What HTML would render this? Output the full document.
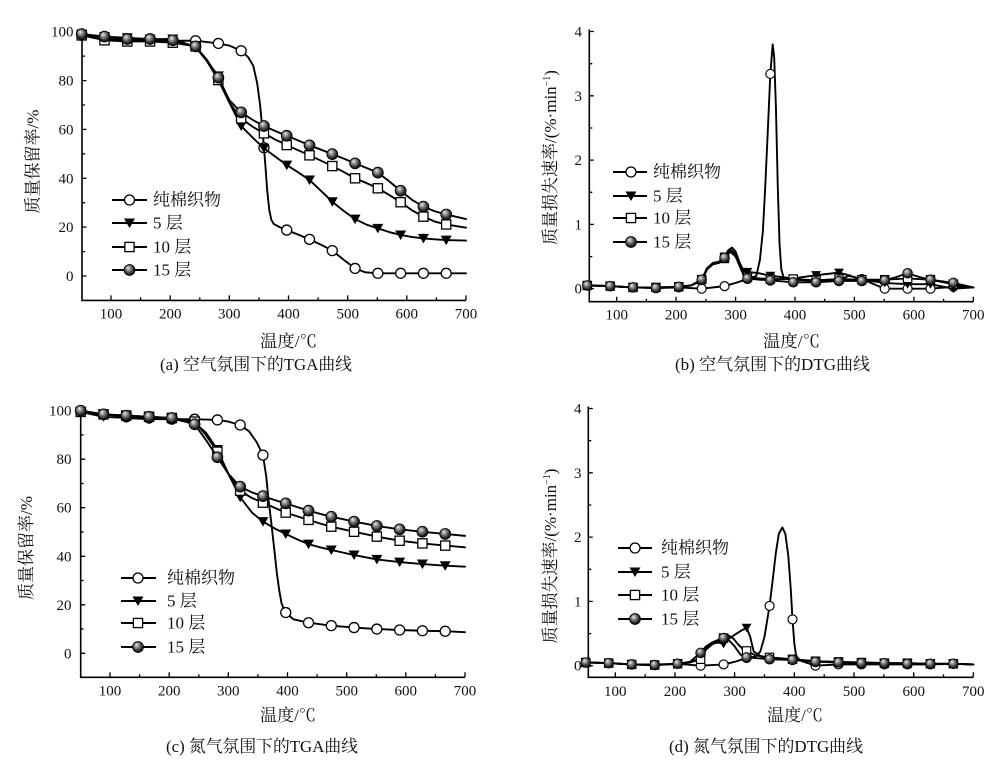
<!DOCTYPE html>
<html><head><meta charset="utf-8"><style>
html,body{margin:0;padding:0;background:#fff}
svg{display:block}
text{font-family:"Liberation Serif","Noto Serif CJK SC",serif;fill:#111}
.t{font-size:15px}
.l{font-size:17px}
.ax{stroke:#000;stroke-width:1.6;fill:none}
.tk{stroke:#000;stroke-width:1.3;fill:none}
.d{fill:none;stroke:#000;stroke-width:1.9;stroke-linejoin:round;stroke-linecap:round}
.lg{stroke:#000;stroke-width:2}
</style></head><body>
<svg width="1000" height="779" viewBox="0 0 1000 779" xmlns="http://www.w3.org/2000/svg">
<defs>
<radialGradient id="g" cx="0.45" cy="0.42" r="0.6" fx="0.36" fy="0.3">
<stop offset="0" stop-color="#eeeeee"/><stop offset="0.35" stop-color="#8f8f8f"/><stop offset="0.75" stop-color="#2e2e2e"/><stop offset="1" stop-color="#0e0e0e"/>
</radialGradient>
<g id="mc"><circle r="5" fill="#fff" stroke="#000" stroke-width="1.3"/></g>
<g id="mt"><path d="M-5.5,-4.5L5.5,-4.5L0,5Z" fill="#000"/></g>
<g id="ms"><rect x="-4.6" y="-4.6" width="9.2" height="9.2" fill="#fff" stroke="#000" stroke-width="1.3"/></g>
<g id="mb"><circle r="5.4" fill="url(#g)" stroke="#000" stroke-width="0.9"/></g>
<g id="Ac" transform="scale(1.69,-0.40933)"><use href="#mc"/></g>
<g id="At" transform="scale(1.69,-0.40933)"><use href="#mt"/></g>
<g id="As" transform="scale(1.69,-0.40933)"><use href="#ms"/></g>
<g id="Ab" transform="scale(1.69,-0.40933)"><use href="#mb"/></g>
<g id="Cc" transform="scale(1.69,-0.4122)"><use href="#mc"/></g>
<g id="Ct" transform="scale(1.69,-0.4122)"><use href="#mt"/></g>
<g id="Cs" transform="scale(1.69,-0.4122)"><use href="#ms"/></g>
<g id="Cb" transform="scale(1.69,-0.4122)"><use href="#mb"/></g>
<g id="Bc" transform="scale(1.5144,-0.014)"><use href="#mc"/></g>
<g id="Bt" transform="scale(1.5144,-0.014)"><use href="#mt"/></g>
<g id="Bs" transform="scale(1.5144,-0.014)"><use href="#ms"/></g>
<g id="Bb" transform="scale(1.5144,-0.014)"><use href="#mb"/></g>
<g id="Dc" transform="scale(1.5083,-0.014)"><use href="#mc"/></g>
<g id="Dt" transform="scale(1.5083,-0.014)"><use href="#mt"/></g>
<g id="Ds" transform="scale(1.5083,-0.014)"><use href="#ms"/></g>
<g id="Db" transform="scale(1.5083,-0.014)"><use href="#mb"/></g>
</defs>

<!-- ================= PANEL A ================= -->
<path class="ax" d="M82,29.5V300.4H466"/>
<path class="tk" d="M82,276h4.5M82,227.1h4.5M82,178.3h4.5M82,129.4h4.5M82,80.6h4.5M82,31.7h4.5M82,251.6h3M82,202.7h3M82,153.8h3M82,105h3M82,56.1h3M111,300.4v-5M170.2,300.4v-5M229.3,300.4v-5M288.5,300.4v-5M347.7,300.4v-5M406.8,300.4v-5M466,300.4v-5M140.6,300.4v-3M199.8,300.4v-3M258.9,300.4v-3M318.1,300.4v-3M377.3,300.4v-3M436.4,300.4v-3"/>
<g class="t" text-anchor="end">
<text x="73.5" y="281">0</text><text x="73.5" y="232.1">20</text><text x="73.5" y="183.3">40</text><text x="73.5" y="134.4">60</text><text x="73.5" y="85.6">80</text><text x="73.5" y="36.7">100</text>
</g>
<g class="t" text-anchor="middle">
<text x="111" y="318.5">100</text><text x="170.2" y="318.5">200</text><text x="229.3" y="318.5">300</text><text x="288.5" y="318.5">400</text><text x="347.7" y="318.5">500</text><text x="406.8" y="318.5">600</text><text x="466" y="318.5">700</text>
</g>
<text class="l" transform="translate(38.5,161.5) rotate(-90)" text-anchor="middle">质量保留率/%</text>
<text class="l" x="260" y="347" textLength="57" lengthAdjust="spacingAndGlyphs">温度/℃</text>
<text class="l" x="160" y="370" textLength="192" lengthAdjust="spacingAndGlyphs">(a) 空气氛围下的TGA曲线</text>

<g transform="matrix(0.5917 0 0 -2.443 51.83 276)">
<polyline class="d" vector-effect="non-scaling-stroke" points="50.5,98.5 89,97.3 127.5,96.3 166,96.3 204.5,96.3 243,96.3 281.5,95.2 300,94.3 320,92.2 332,89.5 340.5,86 347,79 352,70 357,57 361,45 364,35 367.5,27 371,23 375,21.3 385,20 397,18.8 416,17 435.5,15 455,12.8 474,10.4 494,6.5 512.5,3.1 530,1.5 551,1.1 589.5,1.1 628,1.1 666.5,1.1 700,1.1"/>
<use href="#Ac" x="50.5" y="98.5"/><use href="#Ac" x="89" y="97.3"/><use href="#Ac" x="127.5" y="96.3"/><use href="#Ac" x="166" y="96.3"/><use href="#Ac" x="204.5" y="96.3"/><use href="#Ac" x="243" y="96.3"/><use href="#Ac" x="281.5" y="95.2"/><use href="#Ac" x="320" y="92.2"/><use href="#Ac" x="358.5" y="52.5"/><use href="#Ac" x="397" y="18.8"/><use href="#Ac" x="435.5" y="15"/><use href="#Ac" x="474" y="10.4"/><use href="#Ac" x="512.5" y="3.1"/><use href="#Ac" x="551" y="1.1"/><use href="#Ac" x="589.5" y="1.1"/><use href="#Ac" x="628" y="1.1"/><use href="#Ac" x="666.5" y="1.1"/>

<polyline class="d" vector-effect="non-scaling-stroke" points="50.5,99 89,98 127.5,97.5 166,97 204.5,97 243,93.7 262,88 281.5,81.9 300,71 320,61.4 340,56.5 358.5,52.3 378,48.8 397,45.4 416,42.5 435.5,39.3 455,34.8 474,30.4 494,26.5 512.5,23.3 532,21 551,19.5 570,18 589.5,16.8 608,16 628,15.4 647,15 666.5,14.7 700,14.5"/>
<use href="#At" x="50.5" y="99"/><use href="#At" x="89" y="98"/><use href="#At" x="127.5" y="97.5"/><use href="#At" x="166" y="97"/><use href="#At" x="204.5" y="97"/><use href="#At" x="243" y="93.7"/><use href="#At" x="281.5" y="81.9"/><use href="#At" x="320" y="61.4"/><use href="#At" x="358.5" y="52.3"/><use href="#At" x="397" y="45.4"/><use href="#At" x="435.5" y="39.3"/><use href="#At" x="474" y="30.4"/><use href="#At" x="512.5" y="23.3"/><use href="#At" x="551" y="19.5"/><use href="#At" x="589.5" y="16.8"/><use href="#At" x="628" y="15.4"/><use href="#At" x="666.5" y="14.7"/>

<polyline class="d" vector-effect="non-scaling-stroke" points="50.5,98.5 89,96.5 127.5,96 166,96 204.5,95.5 243,94 262,88 281.5,80.2 300,71 320,64.5 340,61 358.5,58.4 378,55.8 397,53.6 416,51.5 435.5,49.4 455,47.2 474,45 494,42.5 512.5,40 532,38 551,35.9 570,33.2 589.5,30.2 608,27 628,24.3 647,22.3 666.5,21.1 700,19.8"/>
<use href="#As" x="50.5" y="98.5"/><use href="#As" x="89" y="96.5"/><use href="#As" x="127.5" y="96"/><use href="#As" x="166" y="96"/><use href="#As" x="204.5" y="95.5"/><use href="#As" x="243" y="94"/><use href="#As" x="281.5" y="80.2"/><use href="#As" x="320" y="64.5"/><use href="#As" x="358.5" y="58.4"/><use href="#As" x="397" y="53.6"/><use href="#As" x="435.5" y="49.4"/><use href="#As" x="474" y="45"/><use href="#As" x="512.5" y="40"/><use href="#As" x="551" y="35.9"/><use href="#As" x="589.5" y="30.2"/><use href="#As" x="628" y="24.3"/><use href="#As" x="666.5" y="21.1"/>

<polyline class="d" vector-effect="non-scaling-stroke" points="50.5,99 89,98 127.5,97 166,97 204.5,96.5 243,94 262,88.5 281.5,81.2 300,72 320,67 340,63.8 358.5,61.4 378,59.3 397,57.4 416,55.5 435.5,53.5 455,51.7 474,49.9 494,48 512.5,46.1 532,44.2 551,42.3 570,38.8 589.5,34.9 608,31.3 628,28.4 647,26.5 666.5,25.2 700,23.3"/>
<use href="#Ab" x="50.5" y="99"/><use href="#Ab" x="89" y="98"/><use href="#Ab" x="127.5" y="97"/><use href="#Ab" x="166" y="97"/><use href="#Ab" x="204.5" y="96.5"/><use href="#Ab" x="243" y="94"/><use href="#Ab" x="281.5" y="81.2"/><use href="#Ab" x="320" y="67"/><use href="#Ab" x="358.5" y="61.4"/><use href="#Ab" x="397" y="57.4"/><use href="#Ab" x="435.5" y="53.5"/><use href="#Ab" x="474" y="49.9"/><use href="#Ab" x="512.5" y="46.1"/><use href="#Ab" x="551" y="42.3"/><use href="#Ab" x="589.5" y="34.9"/><use href="#Ab" x="628" y="28.4"/><use href="#Ab" x="666.5" y="25.2"/>
</g>

<line class="lg" x1="112" y1="200" x2="147" y2="200"/><use href="#mc" x="129.5" y="200"/>
<line class="lg" x1="112" y1="223" x2="147" y2="223"/><use href="#mt" x="129.5" y="223"/>
<line class="lg" x1="112" y1="247" x2="147" y2="247"/><use href="#ms" x="129.5" y="247"/>
<line class="lg" x1="112" y1="270" x2="147" y2="270"/><use href="#mb" x="129.5" y="270"/>
<text class="l" x="153" y="205.5">纯棉织物</text>
<text class="l" x="153" y="228.5">5 层</text>
<text class="l" x="153" y="252.5">10 层</text>
<text class="l" x="153" y="275.5">15 层</text>

<!-- ================= PANEL B ================= -->
<path class="ax" d="M589.3,29.5V301.7H973.3"/>
<path class="tk" d="M589.3,288.7h4.5M589.3,224.4h4.5M589.3,160.1h4.5M589.3,95.8h4.5M589.3,31.5h4.5M589.3,256.6h3M589.3,192.3h3M589.3,128h3M589.3,63.7h3M616.7,301.7v-5M676.1,301.7v-5M735.6,301.7v-5M795,301.7v-5M854.4,301.7v-5M913.9,301.7v-5M973.3,301.7v-5M646.4,301.7v-3M705.9,301.7v-3M765.3,301.7v-3M824.7,301.7v-3M884.2,301.7v-3M943.6,301.7v-3"/>
<g class="t" text-anchor="end">
<text x="582" y="293.7">0</text><text x="582" y="229.4">1</text><text x="582" y="165.1">2</text><text x="582" y="100.8">3</text><text x="582" y="36.5">4</text>
</g>
<g class="t" text-anchor="middle">
<text x="616.7" y="319.5">100</text><text x="676.1" y="319.5">200</text><text x="735.6" y="319.5">300</text><text x="795" y="319.5">400</text><text x="854.4" y="319.5">500</text><text x="913.9" y="319.5">600</text><text x="973.3" y="319.5">700</text>
</g>
<text class="l" transform="translate(556,157.5) rotate(-90)" text-anchor="middle">质量损失速率/(%·min<tspan font-size="10" dy="-6">−1</tspan><tspan dy="6">)</tspan></text>
<text class="l" x="763" y="347" textLength="57" lengthAdjust="spacingAndGlyphs">温度/℃</text>
<text class="l" x="675" y="370" textLength="195" lengthAdjust="spacingAndGlyphs">(b) 空气氛围下的DTG曲线</text>

<g transform="matrix(0.5943 0 0 -64.3 557.27 288.7)">
<polyline class="d" vector-effect="non-scaling-stroke" points="50.5,0.05 89,0.04 127.5,0.02 166,0.01 204.5,0.02 243,0 281.5,0.04 300,0.09 320,0.15 335,0.2 341,0.45 346,0.9 350,1.6 354,2.4 358.5,3.34 362.5,3.8 365,3.6 368,2.8 371,1.6 374,0.7 377,0.3 381,0.17 397,0.14 435.5,0.12 474,0.13 490,0.2 500,0.18 512.5,0.15 530,0.08 551,0 589.5,0 628,0 666.5,0.03 700,0.02"/>
<use href="#Bc" x="50.5" y="0.05"/><use href="#Bc" x="89" y="0.04"/><use href="#Bc" x="127.5" y="0.02"/><use href="#Bc" x="166" y="0.01"/><use href="#Bc" x="204.5" y="0.02"/><use href="#Bc" x="243" y="0"/><use href="#Bc" x="281.5" y="0.04"/><use href="#Bc" x="320" y="0.15"/><use href="#Bc" x="358.5" y="3.34"/><use href="#Bc" x="397" y="0.14"/><use href="#Bc" x="435.5" y="0.12"/><use href="#Bc" x="474" y="0.13"/><use href="#Bc" x="512.5" y="0.15"/><use href="#Bc" x="551" y="0"/><use href="#Bc" x="589.5" y="0"/><use href="#Bc" x="628" y="0"/><use href="#Bc" x="666.5" y="0.03"/>

<polyline class="d" vector-effect="non-scaling-stroke" points="50.5,0.05 89,0.04 127.5,0.02 166,0.02 204.5,0.03 225,0.05 243,0.12 252,0.3 262,0.4 272,0.42 281.5,0.5 288,0.6 294,0.64 300,0.58 307,0.4 314,0.27 322,0.26 340,0.24 358.5,0.2 378,0.18 397,0.16 435.5,0.21 474,0.25 494,0.2 512.5,0.14 551,0.09 589.5,0.07 628,0.07 666.5,0 700,0.02"/>
<use href="#Bt" x="50.5" y="0.05"/><use href="#Bt" x="89" y="0.04"/><use href="#Bt" x="127.5" y="0.02"/><use href="#Bt" x="166" y="0.02"/><use href="#Bt" x="204.5" y="0.03"/><use href="#Bt" x="243" y="0.12"/><use href="#Bt" x="281.5" y="0.5"/><use href="#Bt" x="320" y="0.26"/><use href="#Bt" x="358.5" y="0.2"/><use href="#Bt" x="397" y="0.16"/><use href="#Bt" x="435.5" y="0.21"/><use href="#Bt" x="474" y="0.25"/><use href="#Bt" x="512.5" y="0.14"/><use href="#Bt" x="551" y="0.09"/><use href="#Bt" x="589.5" y="0.07"/><use href="#Bt" x="628" y="0.07"/><use href="#Bt" x="666.5" y="0"/>

<polyline class="d" vector-effect="non-scaling-stroke" points="50.5,0.05 89,0.04 127.5,0.02 166,0.02 204.5,0.03 225,0.05 243,0.14 252,0.32 262,0.4 272,0.4 281.5,0.47 288,0.56 293,0.6 300,0.54 307,0.38 314,0.22 320,0.18 340,0.16 358.5,0.15 397,0.15 435.5,0.13 474,0.15 512.5,0.14 551,0.14 589.5,0.16 628,0.14 666.5,0.07 700,0.02"/>
<use href="#Bs" x="50.5" y="0.05"/><use href="#Bs" x="89" y="0.04"/><use href="#Bs" x="127.5" y="0.02"/><use href="#Bs" x="166" y="0.02"/><use href="#Bs" x="204.5" y="0.03"/><use href="#Bs" x="243" y="0.14"/><use href="#Bs" x="281.5" y="0.47"/><use href="#Bs" x="320" y="0.18"/><use href="#Bs" x="358.5" y="0.15"/><use href="#Bs" x="397" y="0.15"/><use href="#Bs" x="435.5" y="0.13"/><use href="#Bs" x="474" y="0.15"/><use href="#Bs" x="512.5" y="0.14"/><use href="#Bs" x="551" y="0.14"/><use href="#Bs" x="589.5" y="0.16"/><use href="#Bs" x="628" y="0.14"/><use href="#Bs" x="666.5" y="0.07"/>

<polyline class="d" vector-effect="non-scaling-stroke" points="50.5,0.05 89,0.04 127.5,0.02 166,0.01 204.5,0.03 225,0.05 243,0.14 252,0.3 262,0.38 272,0.4 281.5,0.48 288,0.55 292,0.57 300,0.5 307,0.35 314,0.2 320,0.16 340,0.14 358.5,0.13 397,0.1 435.5,0.1 474,0.12 512.5,0.12 551,0.13 570,0.18 589.5,0.24 610,0.18 628,0.14 666.5,0.09 700,0.02"/>
<use href="#Bb" x="50.5" y="0.05"/><use href="#Bb" x="89" y="0.04"/><use href="#Bb" x="127.5" y="0.02"/><use href="#Bb" x="166" y="0.01"/><use href="#Bb" x="204.5" y="0.03"/><use href="#Bb" x="243" y="0.14"/><use href="#Bb" x="281.5" y="0.48"/><use href="#Bb" x="320" y="0.16"/><use href="#Bb" x="358.5" y="0.13"/><use href="#Bb" x="397" y="0.1"/><use href="#Bb" x="435.5" y="0.1"/><use href="#Bb" x="474" y="0.12"/><use href="#Bb" x="512.5" y="0.12"/><use href="#Bb" x="551" y="0.13"/><use href="#Bb" x="589.5" y="0.24"/><use href="#Bb" x="628" y="0.14"/><use href="#Bb" x="666.5" y="0.09"/>
</g>

<line class="lg" x1="613" y1="172" x2="647" y2="172"/><use href="#mc" x="631" y="172"/>
<line class="lg" x1="613" y1="196" x2="647" y2="196"/><use href="#mt" x="631" y="196"/>
<line class="lg" x1="613" y1="218" x2="647" y2="218"/><use href="#ms" x="631" y="218"/>
<line class="lg" x1="613" y1="242" x2="647" y2="242"/><use href="#mb" x="631" y="242"/>
<text class="l" x="653" y="177.5">纯棉织物</text>
<text class="l" x="653" y="201.5">5 层</text>
<text class="l" x="653" y="223.5">10 层</text>
<text class="l" x="653" y="247.5">15 层</text>

<!-- ================= PANEL C ================= -->
<path class="ax" d="M80.7,408.5V677.3H465"/>
<path class="tk" d="M80.7,653.3h4.5M80.7,604.8h4.5M80.7,556.3h4.5M80.7,507.7h4.5M80.7,459.2h4.5M80.7,410.7h4.5M80.7,629h3M80.7,580.5h3M80.7,532h3M80.7,483.5h3M80.7,434.9h3M110,677.3v-5M169.2,677.3v-5M228.3,677.3v-5M287.5,677.3v-5M346.7,677.3v-5M405.8,677.3v-5M465,677.3v-5M139.6,677.3v-3M198.8,677.3v-3M257.9,677.3v-3M317.1,677.3v-3M376.3,677.3v-3M435.4,677.3v-3"/>
<g class="t" text-anchor="end">
<text x="71.5" y="658.3">0</text><text x="71.5" y="609.8">20</text><text x="71.5" y="561.3">40</text><text x="71.5" y="512.7">60</text><text x="71.5" y="464.2">80</text><text x="71.5" y="415.7">100</text>
</g>
<g class="t" text-anchor="middle">
<text x="110" y="695.5">100</text><text x="169.2" y="695.5">200</text><text x="228.3" y="695.5">300</text><text x="287.5" y="695.5">400</text><text x="346.7" y="695.5">500</text><text x="405.8" y="695.5">600</text><text x="465" y="695.5">700</text>
</g>
<text class="l" transform="translate(32,548) rotate(-90)" text-anchor="middle">质量保留率/%</text>
<text class="l" x="260" y="721" textLength="56" lengthAdjust="spacingAndGlyphs">温度/℃</text>
<text class="l" x="166" y="752" textLength="192" lengthAdjust="spacingAndGlyphs">(c) 氮气氛围下的TGA曲线</text>

<g transform="matrix(0.5917 0 0 -2.426 50.83 653.3)">
<polyline class="d" vector-effect="non-scaling-stroke" points="50.5,100 89,98.5 127.5,97.5 166,97 204.5,96.5 243,96.5 281.5,96.2 300,95.5 320,94.1 335,91.5 348,87 358.5,81.7 364,73 368,63 373,53 378,42 382,33 386,26 390,20.5 397,16.8 410,14 435.5,12.6 474,11.4 512.5,10.6 551,10 589.5,9.6 628,9.3 666.5,9.1 700,8.7"/>
<use href="#Cc" x="50.5" y="100"/><use href="#Cc" x="89" y="98.5"/><use href="#Cc" x="127.5" y="97.5"/><use href="#Cc" x="166" y="97"/><use href="#Cc" x="204.5" y="96.5"/><use href="#Cc" x="243" y="96.5"/><use href="#Cc" x="281.5" y="96.2"/><use href="#Cc" x="320" y="94.1"/><use href="#Cc" x="358.5" y="81.7"/><use href="#Cc" x="397" y="16.8"/><use href="#Cc" x="435.5" y="12.6"/><use href="#Cc" x="474" y="11.4"/><use href="#Cc" x="512.5" y="10.6"/><use href="#Cc" x="551" y="10"/><use href="#Cc" x="589.5" y="9.6"/><use href="#Cc" x="628" y="9.3"/><use href="#Cc" x="666.5" y="9.1"/>

<polyline class="d" vector-effect="non-scaling-stroke" points="50.5,99.5 89,97.5 127.5,97 166,96.5 204.5,96.5 243,95 262,91 281.5,84 300,74 320,64.3 340,58 358.5,54.3 378,51.5 397,49.2 416,47 435.5,45 455,43.7 474,42.6 494,41.5 512.5,40.5 551,38.7 589.5,37.6 628,36.8 666.5,36.1 700,35.7"/>
<use href="#Ct" x="50.5" y="99.5"/><use href="#Ct" x="89" y="97.5"/><use href="#Ct" x="127.5" y="97"/><use href="#Ct" x="166" y="96.5"/><use href="#Ct" x="204.5" y="96.5"/><use href="#Ct" x="243" y="95"/><use href="#Ct" x="281.5" y="84"/><use href="#Ct" x="320" y="64.3"/><use href="#Ct" x="358.5" y="54.3"/><use href="#Ct" x="397" y="49.2"/><use href="#Ct" x="435.5" y="45"/><use href="#Ct" x="474" y="42.6"/><use href="#Ct" x="512.5" y="40.5"/><use href="#Ct" x="551" y="38.7"/><use href="#Ct" x="589.5" y="37.6"/><use href="#Ct" x="628" y="36.8"/><use href="#Ct" x="666.5" y="36.1"/>

<polyline class="d" vector-effect="non-scaling-stroke" points="50.5,99.5 89,98.5 127.5,98 166,97.5 204.5,97 243,95.5 262,90 281.5,83.1 300,74 320,67 340,64 358.5,62.1 378,60 397,58 416,56.5 435.5,55 455,53.5 474,52.2 494,51.1 512.5,50.1 551,48.1 589.5,46.4 628,45.3 666.5,44.4 700,43.7"/>
<use href="#Cs" x="50.5" y="99.5"/><use href="#Cs" x="89" y="98.5"/><use href="#Cs" x="127.5" y="98"/><use href="#Cs" x="166" y="97.5"/><use href="#Cs" x="204.5" y="97"/><use href="#Cs" x="243" y="95.5"/><use href="#Cs" x="281.5" y="83.1"/><use href="#Cs" x="320" y="67"/><use href="#Cs" x="358.5" y="62.1"/><use href="#Cs" x="397" y="58"/><use href="#Cs" x="435.5" y="55"/><use href="#Cs" x="474" y="52.2"/><use href="#Cs" x="512.5" y="50.1"/><use href="#Cs" x="551" y="48.1"/><use href="#Cs" x="589.5" y="46.4"/><use href="#Cs" x="628" y="45.3"/><use href="#Cs" x="666.5" y="44.4"/>

<polyline class="d" vector-effect="non-scaling-stroke" points="50.5,100 89,98.5 127.5,98 166,97.5 204.5,97 243,94.4 262,88 281.5,80.8 300,74 320,68.7 340,66.3 358.5,64.8 378,63.2 397,61.8 416,60.3 435.5,58.8 455,57.5 474,56.3 494,55.3 512.5,54.3 551,52.5 589.5,51.1 628,50.1 666.5,49.2 700,48.4"/>
<use href="#Cb" x="50.5" y="100"/><use href="#Cb" x="89" y="98.5"/><use href="#Cb" x="127.5" y="98"/><use href="#Cb" x="166" y="97.5"/><use href="#Cb" x="204.5" y="97"/><use href="#Cb" x="243" y="94.4"/><use href="#Cb" x="281.5" y="80.8"/><use href="#Cb" x="320" y="68.7"/><use href="#Cb" x="358.5" y="64.8"/><use href="#Cb" x="397" y="61.8"/><use href="#Cb" x="435.5" y="58.8"/><use href="#Cb" x="474" y="56.3"/><use href="#Cb" x="512.5" y="54.3"/><use href="#Cb" x="551" y="52.5"/><use href="#Cb" x="589.5" y="51.1"/><use href="#Cb" x="628" y="50.1"/><use href="#Cb" x="666.5" y="49.2"/>
</g>

<line class="lg" x1="121" y1="578" x2="156" y2="578"/><use href="#mc" x="138" y="578"/>
<line class="lg" x1="121" y1="601" x2="156" y2="601"/><use href="#mt" x="138" y="601"/>
<line class="lg" x1="121" y1="623" x2="156" y2="623"/><use href="#ms" x="138" y="623"/>
<line class="lg" x1="121" y1="647" x2="156" y2="647"/><use href="#mb" x="138" y="647"/>
<text class="l" x="167" y="583.5">纯棉织物</text>
<text class="l" x="167" y="606.5">5 层</text>
<text class="l" x="167" y="628.5">10 层</text>
<text class="l" x="167" y="652.5">15 层</text>

<!-- ================= PANEL D ================= -->
<path class="ax" d="M588.3,406.5V677.3H973.3"/>
<path class="tk" d="M588.3,665.7h4.5M588.3,601.4h4.5M588.3,537.1h4.5M588.3,472.8h4.5M588.3,408.5h4.5M588.3,633.6h3M588.3,569.3h3M588.3,505h3M588.3,440.7h3M615.3,677.3v-5M675,677.3v-5M734.6,677.3v-5M794.3,677.3v-5M854,677.3v-5M913.7,677.3v-5M973.3,677.3v-5M645.2,677.3v-3M704.8,677.3v-3M764.5,677.3v-3M824.2,677.3v-3M883.8,677.3v-3M943.5,677.3v-3"/>
<g class="t" text-anchor="end">
<text x="581.5" y="670.7">0</text><text x="581.5" y="606.4">1</text><text x="581.5" y="542.1">2</text><text x="581.5" y="477.8">3</text><text x="581.5" y="413.5">4</text>
</g>
<g class="t" text-anchor="middle">
<text x="615.3" y="696">100</text><text x="675" y="696">200</text><text x="734.6" y="696">300</text><text x="794.3" y="696">400</text><text x="854" y="696">500</text><text x="913.7" y="696">600</text><text x="973.3" y="696">700</text>
</g>
<text class="l" transform="translate(556,556) rotate(-90)" text-anchor="middle">质量损失速率/(%·min<tspan font-size="10" dy="-6">−1</tspan><tspan dy="6">)</tspan></text>
<text class="l" x="767" y="721" textLength="56" lengthAdjust="spacingAndGlyphs">温度/℃</text>
<text class="l" x="669" y="752" textLength="194" lengthAdjust="spacingAndGlyphs">(d) 氮气氛围下的DTG曲线</text>

<g transform="matrix(0.5967 0 0 -64.3 555.63 665.7)">
<polyline class="d" vector-effect="non-scaling-stroke" points="50.5,0.05 89,0.04 127.5,0.02 166,0.01 204.5,0.03 243,0 281.5,0.02 300,0.06 320,0.12 335,0.14 343,0.22 350,0.45 358.5,0.93 364,1.35 369,1.75 374,2.05 380,2.15 385,2.05 390,1.7 394,1.2 397,0.72 400,0.35 403,0.15 410,0.08 435.5,0 474,0.02 512.5,0.02 551,0.02 589.5,0.02 628,0.02 666.5,0.03 700,0.02"/>
<use href="#Dc" x="50.5" y="0.05"/><use href="#Dc" x="89" y="0.04"/><use href="#Dc" x="127.5" y="0.02"/><use href="#Dc" x="166" y="0.01"/><use href="#Dc" x="204.5" y="0.03"/><use href="#Dc" x="243" y="0"/><use href="#Dc" x="281.5" y="0.02"/><use href="#Dc" x="320" y="0.12"/><use href="#Dc" x="358.5" y="0.93"/><use href="#Dc" x="397" y="0.72"/><use href="#Dc" x="435.5" y="0"/><use href="#Dc" x="474" y="0.02"/><use href="#Dc" x="512.5" y="0.02"/><use href="#Dc" x="551" y="0.02"/><use href="#Dc" x="589.5" y="0.02"/><use href="#Dc" x="628" y="0.02"/><use href="#Dc" x="666.5" y="0.03"/>

<polyline class="d" vector-effect="non-scaling-stroke" points="50.5,0.05 89,0.04 127.5,0.02 166,0.02 204.5,0.03 225,0.05 243,0.12 252,0.28 262,0.34 272,0.36 281.5,0.34 290,0.42 300,0.48 312,0.55 320,0.59 326,0.45 332,0.22 345,0.14 358.5,0.12 397,0.1 435.5,0.07 474,0.05 512.5,0.05 551,0.04 589.5,0.03 628,0.03 666.5,0.03 700,0.02"/>
<use href="#Dt" x="50.5" y="0.05"/><use href="#Dt" x="89" y="0.04"/><use href="#Dt" x="127.5" y="0.02"/><use href="#Dt" x="166" y="0.02"/><use href="#Dt" x="204.5" y="0.03"/><use href="#Dt" x="243" y="0.12"/><use href="#Dt" x="281.5" y="0.34"/><use href="#Dt" x="320" y="0.59"/><use href="#Dt" x="358.5" y="0.12"/><use href="#Dt" x="397" y="0.1"/><use href="#Dt" x="435.5" y="0.07"/><use href="#Dt" x="474" y="0.05"/><use href="#Dt" x="512.5" y="0.05"/><use href="#Dt" x="551" y="0.04"/><use href="#Dt" x="589.5" y="0.03"/><use href="#Dt" x="628" y="0.03"/><use href="#Dt" x="666.5" y="0.03"/>

<polyline class="d" vector-effect="non-scaling-stroke" points="50.5,0.05 89,0.04 127.5,0.02 166,0.01 204.5,0.03 225,0.05 243,0.1 252,0.25 262,0.33 272,0.38 281.5,0.43 290,0.47 298,0.42 307,0.32 315,0.25 320,0.23 335,0.16 358.5,0.13 397,0.1 435.5,0.07 474,0.06 512.5,0.05 551,0.04 589.5,0.04 628,0.03 666.5,0.03 700,0.02"/>
<use href="#Ds" x="50.5" y="0.05"/><use href="#Ds" x="89" y="0.04"/><use href="#Ds" x="127.5" y="0.02"/><use href="#Ds" x="166" y="0.01"/><use href="#Ds" x="204.5" y="0.03"/><use href="#Ds" x="243" y="0.1"/><use href="#Ds" x="281.5" y="0.43"/><use href="#Ds" x="320" y="0.23"/><use href="#Ds" x="358.5" y="0.13"/><use href="#Ds" x="397" y="0.1"/><use href="#Ds" x="435.5" y="0.07"/><use href="#Ds" x="474" y="0.06"/><use href="#Ds" x="512.5" y="0.05"/><use href="#Ds" x="551" y="0.04"/><use href="#Ds" x="589.5" y="0.04"/><use href="#Ds" x="628" y="0.03"/><use href="#Ds" x="666.5" y="0.03"/>

<polyline class="d" vector-effect="non-scaling-stroke" points="50.5,0.05 89,0.04 127.5,0.02 166,0.01 204.5,0.03 225,0.06 243,0.2 252,0.3 262,0.36 272,0.4 281.5,0.43 290,0.4 300,0.3 310,0.17 320,0.13 358.5,0.1 397,0.09 435.5,0.06 474,0.05 512.5,0.04 551,0.04 589.5,0.03 628,0.03 666.5,0.03 700,0.02"/>
<use href="#Db" x="50.5" y="0.05"/><use href="#Db" x="89" y="0.04"/><use href="#Db" x="127.5" y="0.02"/><use href="#Db" x="166" y="0.01"/><use href="#Db" x="204.5" y="0.03"/><use href="#Db" x="243" y="0.2"/><use href="#Db" x="281.5" y="0.43"/><use href="#Db" x="320" y="0.13"/><use href="#Db" x="358.5" y="0.1"/><use href="#Db" x="397" y="0.09"/><use href="#Db" x="435.5" y="0.06"/><use href="#Db" x="474" y="0.05"/><use href="#Db" x="512.5" y="0.04"/><use href="#Db" x="551" y="0.04"/><use href="#Db" x="589.5" y="0.03"/><use href="#Db" x="628" y="0.03"/><use href="#Db" x="666.5" y="0.03"/>
</g>

<line class="lg" x1="618" y1="548" x2="652" y2="548"/><use href="#mc" x="635" y="548"/>
<line class="lg" x1="618" y1="572" x2="652" y2="572"/><use href="#mt" x="635" y="572"/>
<line class="lg" x1="618" y1="595" x2="652" y2="595"/><use href="#ms" x="635" y="595"/>
<line class="lg" x1="618" y1="619" x2="652" y2="619"/><use href="#mb" x="635" y="619"/>
<text class="l" x="661" y="553.5">纯棉织物</text>
<text class="l" x="661" y="577.5">5 层</text>
<text class="l" x="661" y="600.5">10 层</text>
<text class="l" x="661" y="624.5">15 层</text>
</svg>
</body></html>
